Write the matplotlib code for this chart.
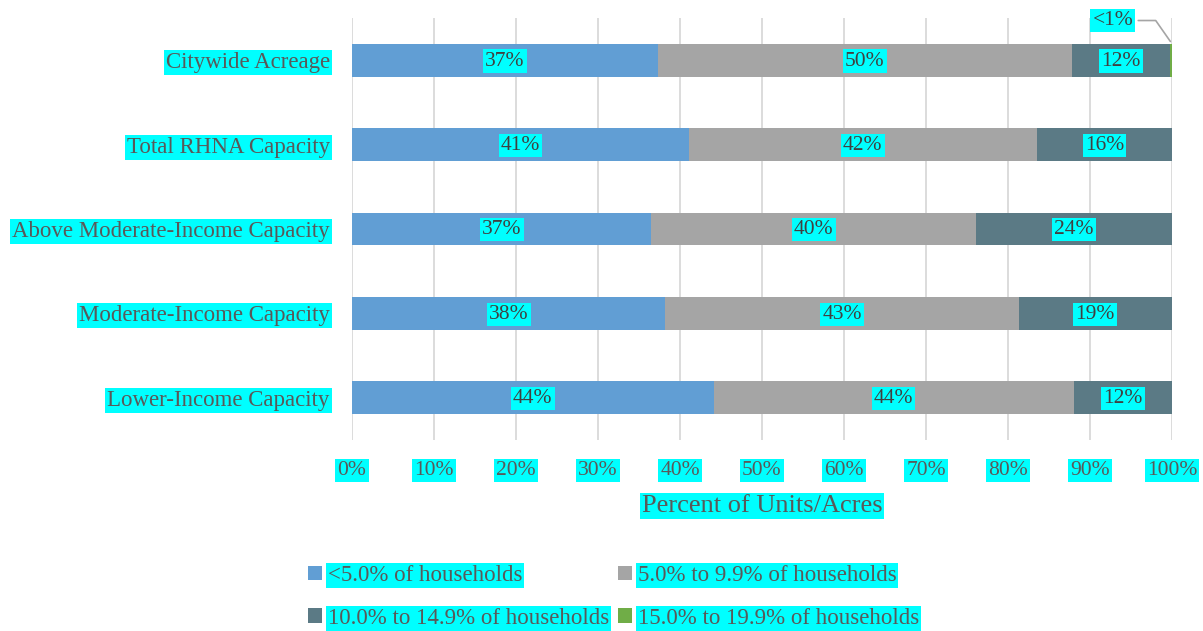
import matplotlib
matplotlib.use("Agg")
import matplotlib.pyplot as plt
import numpy as np

categories = ["Citywide Acreage", "Total RHNA Capacity", "Above Moderate-Income Capacity",
              "Moderate-Income Capacity", "Lower-Income Capacity"]
series_names = ["<5.0% of households", "5.0% to 9.9% of households",
                "10.0% to 14.9% of households", "15.0% to 19.9% of households"]
under5 = [37.3, 41.1, 36.5, 38.2, 44.1]
from5to10 = [50.5, 42.4, 39.6, 43.1, 43.9]
from10to15 = [11.9, 16.5, 23.9, 18.7, 12.0]
from15to20 = [0.3, 0.0, 0.0, 0.0, 0.0]
labels_under5 = ["37%", "41%", "37%", "38%", "44%"]
labels_5to10 = ["50%", "42%", "40%", "43%", "44%"]
labels_10to15 = ["12%", "16%", "24%", "19%", "12%"]
colors = ["#619ed4", "#a5a5a5", "#5b7a85", "#70ad47"]

plt.rcParams['font.family'] = ['Liberation Serif', 'DejaVu Serif']
cyan = dict(facecolor="#00ffff", edgecolor="none", pad=1.5)

fig = plt.figure(figsize=(12.03, 6.31), dpi=100)
ax = fig.add_axes([0.2926, 0.3027, 0.6816, 0.6688])

y = np.arange(len(categories))
bar_h = 0.39
data = [under5, from5to10, from10to15, from15to20]
texts = [labels_under5, labels_5to10, labels_10to15, None]
left = np.zeros(len(categories))
handles = []
for vals, name, col, labs in zip(data, series_names, colors, texts):
    vals = np.array(vals)
    h = ax.barh(y, vals, left=left, height=bar_h, color=col, label=name, zorder=3)
    handles.append(h)
    if labs:
        for yi, l, v, t in zip(y, left, vals, labs):
            ax.text(l + v / 2, yi + 0.01, t, ha="center", va="center", fontsize=15.5,
                    color="#404040", bbox=cyan, zorder=4)
    left = left + vals

ax.annotate("<1%", xy=(left[0], y[0] - bar_h / 2), xytext=(92.8, -0.47),
            ha="center", va="center", fontsize=15.5, color="#404040", bbox=cyan,
            arrowprops=dict(arrowstyle="-", color="#a5a5a5", lw=1.2,
                            connectionstyle="angle,angleA=0,angleB=-55,rad=0"),
            annotation_clip=False, zorder=5)

ax.set_xlim(0, 100)
ax.set_ylim(len(categories) - 0.5, -0.5)
ax.set_xticks(np.arange(0, 101, 10))
ax.set_xticklabels([f"{v}%" for v in range(0, 101, 10)])
ax.set_yticks(y)
ax.set_yticklabels(categories)
ax.grid(axis="x", color="#d9d9d9", lw=1.3, zorder=0)
for s in ax.spines.values():
    s.set_visible(False)
ax.tick_params(axis="x", length=0, labelsize=15.5, labelcolor="#595959", pad=15)
ax.tick_params(axis="y", length=0, labelsize=16.5, labelcolor="#595959", pad=16)
for t in ax.get_xticklabels() + ax.get_yticklabels():
    t.set_bbox(cyan)
ax.set_xlabel("Percent of Units/Acres", fontsize=19, color="#595959", labelpad=11,
              bbox=cyan)

# row-major legend order
order = [0, 2, 1, 3]
leg = fig.legend([handles[i] for i in order], [series_names[i] for i in order],
                 loc="lower center", bbox_to_anchor=(0.51, -0.029), ncol=2, frameon=False,
                 fontsize=16.5, handlelength=0.6, handleheight=0.6, handletextpad=0.25,
                 columnspacing=0.4, labelspacing=0.95)
for t in leg.get_texts():
    t.set_color("#595959")
    t.set_bbox(cyan)

fig.savefig("out.png", dpi=100)
